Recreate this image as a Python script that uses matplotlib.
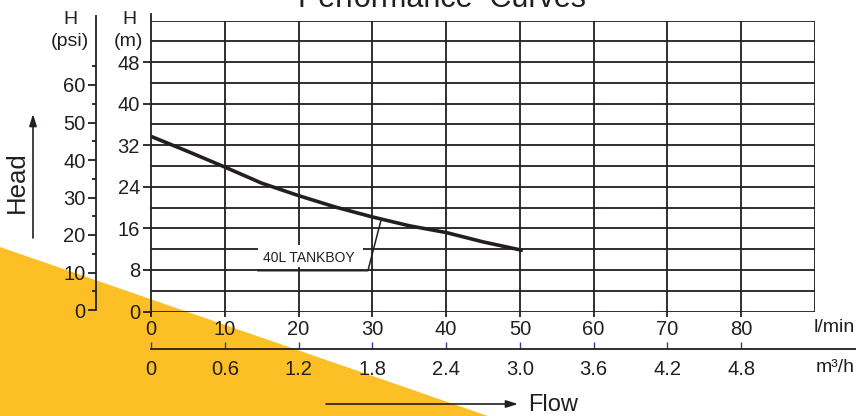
import matplotlib
matplotlib.use("Agg")
import matplotlib.pyplot as plt
from matplotlib.patches import Polygon, Rectangle, FancyArrowPatch
import numpy as np

plt.rcParams['font.family'] = ['Liberation Sans', 'DejaVu Sans']

# ---- data ----
flow_lmin = [0, 5, 10, 15, 20, 25, 30, 35, 40, 45, 50.4]
head_m = [33.7, 30.8, 27.8, 24.7, 22.3, 20.1, 18.2, 16.5, 15.2, 13.4, 11.75]
lmin_ticks = [0, 10, 20, 30, 40, 50, 60, 70, 80]
m3h_ticks = [0, 0.6, 1.2, 1.8, 2.4, 3.0, 3.6, 4.2, 4.8]
m3h_labels = ['0', '0.6', '1.2', '1.8', '2.4', '3.0', '3.6', '4.2', '4.8']
m_ticks = [0, 8, 16, 24, 32, 40, 48]
psi_ticks = [0, 10, 20, 30, 40, 50, 60]
series_label = '40L TANKBOY'

W, H = 856, 416
DARK = '#231f20'
TS = 14.5
fig = plt.figure(figsize=(W / 100, H / 100), dpi=100)

def fx(px):
    return px / W

def fy(py):
    return 1 - py / H

# yellow background triangle
fig.patches.append(Polygon([[fx(0), fy(247)], [fx(488), fy(416)], [fx(0), fy(416)]],
                           closed=True, transform=fig.transFigure,
                           facecolor='#fcc026', edgecolor='none', zorder=-5))

# ---- main axes ----
L, R, B, T = 151, 815, 311.5, 20.5
ax = fig.add_axes([fx(L), fy(B), fx(R - L), (B - T) / H])
ax.set_facecolor('none')
ax.set_xlim(0, 90)
ax.set_ylim(0, 56)
for s in ax.spines.values():
    s.set_visible(False)

lw = 1.3
ax.hlines(np.arange(0, 57, 4), 0, 90, color=DARK, lw=lw, zorder=2)
ax.vlines(np.arange(10, 91, 10), 0, 56, color=DARK, lw=lw, zorder=2)
ax.plot([0, 0], [-0.6, 57.2], color=DARK, lw=lw, clip_on=False, zorder=2)

ax.set_xticks(lmin_ticks)
ax.set_xticklabels([str(v) for v in lmin_ticks])
ax.set_yticks(m_ticks)
ax.set_yticklabels([str(v) for v in m_ticks])
ax.tick_params(axis='x', direction='out', length=3.5, width=lw, color=DARK,
               labelsize=TS, pad=2.5, labelcolor=DARK)
ax.tick_params(axis='y', direction='out', length=6, width=lw, color=DARK,
               labelsize=TS, pad=2, labelcolor=DARK)

# curve
ax.plot(flow_lmin, head_m, color=DARK, lw=2.6, solid_capstyle='butt', zorder=4)

# label box + leader
ax.add_patch(Rectangle((14.5, 8.5), 14.2, 4.3, facecolor='white', edgecolor='none', zorder=3))
ax.text(21.4, 10.2, series_label, ha='center', va='center', fontsize=10, color=DARK, zorder=5)
ax.plot([14.5, 29.4, 31.2], [7.85, 7.85, 17.7], color=DARK, lw=1.1, zorder=5)

# axis labels
fig.text(fx(855), fy(327), 'l/min', ha='right', va='center', fontsize=14, color=DARK)
fig.text(fx(855), fy(367), 'm³/h', ha='right', va='center', fontsize=14, color=DARK)

# ---- m3/h axis ----
ax2 = fig.add_axes([fx(L), fy(349), fx(R - L), 0.0001])
ax2.set_facecolor('none')
ax2.set_xlim(0, 5.4)
for s in ax2.spines.values():
    s.set_visible(False)
ax2.plot([0, 6.0], [0, 0], color=DARK, lw=lw, clip_on=False)
ax2.set_yticks([])
ax2.set_xticks(m3h_ticks)
ax2.set_xticklabels(m3h_labels)
ax2.tick_params(axis='x', direction='in', length=5, width=1.0, color='#2e3f96',
                labelsize=TS, pad=8, labelcolor=DARK)
ax2.xaxis.get_major_ticks()[0].tick1line.set_color(DARK)

# ---- psi axis ----
PB, PT = 310, 16
axp = fig.add_axes([fx(96), fy(PB), 0.0001, (PB - PT) / H])
axp.set_facecolor('none')
axp.set_ylim(0, (PB - PT) / 3.75)
for k, s in axp.spines.items():
    s.set_visible(k == 'left')
axp.spines['left'].set_color(DARK)
axp.spines['left'].set_linewidth(lw)
axp.set_xticks([])
axp.set_yticks(psi_ticks)
axp.set_yticklabels([str(v) for v in psi_ticks])
axp.set_yticks(np.arange(5, 70, 10), minor=True)
axp.tick_params(axis='y', which='major', direction='out', length=6, width=lw, color=DARK,
                labelsize=TS, pad=1.5, labelcolor=DARK)
axp.tick_params(axis='y', which='minor', direction='out', length=3, width=lw, color=DARK)

# unit headers
fig.text(fx(70), fy(19), 'H', ha='center', va='center', fontsize=14, color=DARK)
fig.text(fx(70), fy(42), '(psi)', ha='center', va='center', fontsize=14, color=DARK)
fig.text(fx(129), fy(19), 'H', ha='center', va='center', fontsize=14, color=DARK)
fig.text(fx(128), fy(42), '(m)', ha='center', va='center', fontsize=14, color=DARK)

# Head label and arrow
fig.text(fx(17), fy(182), 'Head', rotation=90, ha='center', va='center', fontsize=18.5, color=DARK)
fig.patches.append(FancyArrowPatch((fx(33), fy(238)), (fx(33), fy(114)),
                                   transform=fig.transFigure, arrowstyle='-|>,head_length=7,head_width=2.2',
                                   color=DARK, lw=1.2, shrinkA=0, shrinkB=0, zorder=3))

# Flow label and arrow
fig.patches.append(FancyArrowPatch((fx(326), fy(404)), (fx(518), fy(404)),
                                   transform=fig.transFigure, arrowstyle='-|>,head_length=7,head_width=2.2',
                                   color=DARK, lw=1.2, shrinkA=0, shrinkB=0, zorder=3))
fig.text(fx(528), fy(405), 'Flow', ha='left', va='center', fontsize=17, color=DARK)

# clipped title
fig.text(fx(442), fy(7), 'Performance  Curves', ha='center', va='baseline', fontsize=22, color=DARK)

fig.savefig('out.png', dpi=100)
